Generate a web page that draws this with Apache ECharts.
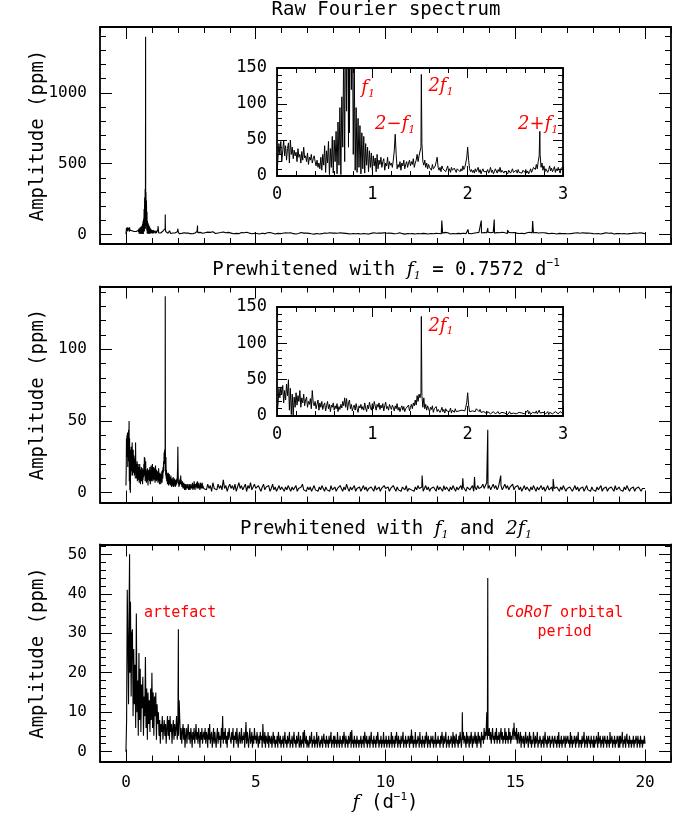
<!DOCTYPE html>
<html><head><meta charset="utf-8">
<script src="https://cdn.jsdelivr.net/npm/echarts@6/dist/echarts.min.js"></script>
<style>html,body{margin:0;padding:0;background:#fff}#c{width:687px;height:821px}</style>
</head><body><div id="c"></div>
<script>
// ---------------- DATA ----------------
// Raw Fourier spectrum: fine grid 0–3 d^-1 (step 0.01), grid 3.05–20 (step 0.05), plus narrow peaks
const rawLowStart = 0, rawLowStep = 0.01;
const rawLow = [
 2,25,45,30,48,20,35,50,28,42,
 22,38,46,18,50,30,40,24,36,28,
 33,20,38,26,30,18,34,22,40,25,
 28,20,32,16,26,22,30,18,24,28,
 20,14,22,12,18,10,26,8,30,15,
 42,5,35,18,48,2,38,12,55,4,
 50,20,62,3,75,15,95,2,110,40,
 180,20,260,90,320,40,60,300,120,240,
 30,160,8,95,5,80,12,70,3,60,
 10,55,4,45,15,40,6,35,12,32,
 8,28,14,25,6,30,10,22,16,26,
 12,20,24,8,18,14,26,10,20,15,
 18,12,22,35,58,30,10,16,12,20,
 8,18,14,22,10,16,20,12,18,22,
 14,20,16,24,12,18,22,30,20,28,
 28,40,45,20,15,22,12,18,10,16,
 12,14,8,16,10,12,14,20,26,12,
 8,12,6,14,10,8,12,6,10,14,
 7,10,5,12,8,6,11,9,5,10,
 8,12,6,10,7,14,9,12,18,25,
 40,22,10,6,9,5,8,4,10,6,
 8,12,5,9,3,7,10,6,4,8,
 6,9,4,7,12,5,8,3,6,10,
 7,4,9,6,12,5,8,10,4,7,
 9,5,3,8,6,4,7,10,5,3,
 6,8,4,9,5,3,7,4,8,6,
 5,9,4,7,3,6,10,5,8,12,
 14,9,16,10,20,28,30,12,18,8,
 14,6,10,12,5,9,14,7,11,6,
 9,13,5,10,7,12,8,4,11,9,
 12];
const rawHighStart = 3.05, rawHighStep = 0.05;
const rawHigh = [
 12,5,16,8,14,4,18,9,6,15,10,3,13,7,17,5,11,8,14,6,
 9,14,4,12,7,16,5,10,13,3,11,8,15,6,9,12,4,14,7,10,
 6,12,3,10,8,14,5,9,11,4,13,6,8,12,3,10,7,11,5,9,
 8,3,11,6,10,4,12,7,5,9,3,11,6,8,13,4,9,6,10,3,
 7,10,4,9,2,11,6,8,3,12,5,7,10,3,8,6,11,4,9,5,
 10,4,8,3,11,6,9,2,7,12,5,8,3,10,6,9,4,11,5,7,
 3,9,6,11,4,8,2,10,7,5,12,3,8,6,10,4,9,5,11,6,
 8,3,10,5,7,12,4,9,6,3,11,7,5,10,2,8,6,12,4,9,
 5,10,3,8,6,11,4,9,7,13,5,8,3,10,6,12,4,9,7,11,
 6,12,4,9,7,14,5,11,8,3,13,6,10,4,12,7,9,5,14,8,
 10,5,13,7,11,4,15,8,6,12,9,14,5,10,7,13,6,11,16,8,
 12,6,14,9,5,13,8,11,4,15,7,12,9,6,14,8,11,5,13,7,
 9,14,6,11,8,13,5,10,12,7,15,6,9,11,4,13,8,10,6,12,
 7,11,5,9,12,4,10,8,13,6,9,3,11,7,10,5,12,6,8,4,
 9,5,11,7,3,10,6,12,4,8,7,11,5,9,3,10,6,8,12,5,
 8,4,10,6,11,3,9,7,5,12,6,8,4,10,7,3,11,5,9,6,
 10,4,8,6,11,3,9,5,12,7,4,10,6,8,3,11,5,9,7,4];
const rawPeaks = [[0.757,1396],[1.514,141],[2.757,62],[12.17,98],[13.18,35],[13.69,98],
                  [13.94,45],[14.19,105],[14.70,30],[15.12,15],[15.67,95]];

// Prewhitened with f1
const pw1LowStart = 0, pw1LowStep = 0.01;
const pw1Low = [
 5,15,38,25,40,30,42,18,35,22,
 44,28,50,8,38,2,30,0,26,12,
 32,15,28,20,35,12,25,18,30,14,
 22,26,12,20,16,24,10,35,18,14,
 20,10,16,22,8,18,12,20,9,15,
 18,7,14,20,10,16,6,15,12,18,
 8,14,10,17,6,13,9,16,11,20,
 14,25,12,24,8,18,22,10,16,7,
 12,15,8,17,10,5,14,11,16,9,
 13,8,18,11,6,15,10,19,12,8,
 17,10,20,14,8,16,12,18,9,15,
 11,17,7,14,19,10,13,8,16,12,
 9,15,12,7,14,10,17,8,12,6,
 11,14,8,13,6,10,12,9,15,7,
 12,16,10,18,14,22,15,28,20,30,
 25,32,28,12,25,10,16,8,14,10,
 6,12,9,14,5,10,8,13,6,9,
 11,5,8,12,6,9,4,10,7,5,
 9,6,11,4,8,7,5,10,6,8,
 4,7,9,5,8,6,10,7,12,18,
 32,15,6,8,4,7,5,9,6,10,
 8,12,6,9,5,7,4,6,8,5,
 3,6,4,7,3,5,2,6,4,3,
 5,2,6,3,4,2,5,3,6,4,
 3,5,2,4,6,3,5,2,4,3,
 6,3,4,2,5,3,7,4,2,5,
 3,5,4,8,3,6,2,4,5,3,
 6,4,7,3,5,8,4,6,3,5,
 4,7,3,5,6,2,5,4,7,3,
 5,3,6,4,7,3,5,6,4,5,
 3];
const pw1HighStart = 3.05, pw1HighStep = 0.05;
const pw1High = [
 4,2,6,3,5,1,7,3,4,2,6,3,5,2,9,3,5,1,4,6,
 3,5,2,6,1,4,7,3,5,2,4,6,1,5,3,7,2,4,6,3,
 2,5,3,1,4,6,2,4,3,5,1,3,6,2,4,1,3,5,2,4,
 3,1,4,2,5,3,1,4,2,3,5,1,3,2,4,6,2,3,1,4,
 2,4,1,3,5,2,3,1,4,2,5,3,1,4,2,3,1,5,2,3,
 4,1,3,2,5,3,1,4,2,6,3,1,4,2,3,5,1,3,2,4,
 1,3,5,2,4,1,3,2,4,3,1,5,2,3,4,1,3,2,5,3,
 2,4,1,3,2,5,3,1,4,2,3,1,4,3,2,5,1,3,4,2,
 3,1,4,2,5,3,2,4,1,3,5,2,4,1,3,2,4,3,1,5,
 2,4,3,1,5,2,4,3,1,4,2,5,3,1,4,2,3,5,2,4,
 3,1,4,5,2,3,5,1,4,2,5,3,2,4,6,3,5,7,3,5,
 2,4,6,3,5,2,4,3,5,2,4,6,3,5,2,4,3,6,2,4,
 3,5,2,4,1,3,5,2,4,3,1,4,2,5,3,1,4,2,3,5,
 2,4,1,3,5,2,3,4,1,3,2,4,3,1,4,2,5,3,1,3,
 2,4,3,1,3,5,2,4,1,3,2,4,1,3,5,2,3,1,4,2,
 3,1,4,2,3,5,1,3,2,4,1,3,2,4,3,1,5,2,3,4,
 2,3,1,4,2,5,3,1,3,2,4,1,3,2,4,3,1,3,2,3];
const pw1Peaks = [[1.514,137],[11.41,12],[12.98,10],[13.43,11],[13.94,44],[14.44,12],[16.46,9.5]];

// Prewhitened with f1 and 2f1 (step 0.025 from 0 to 20, one row per d^-1)
const pw2Start = 0, pw2Step = 0.025;
const pw2 = [
 0,
 8,41,28,12,40,20,38,14,30,31, 9,26,12,22,6,35,10,18,4,25, 8,21,5,17,11,19,4,14,9,24, 6,16,3,15,7,13,5,16,8,20,
 6,15,4,14,9,15,3,12,7,10, 4,8,2,7,5,9,3,6,8,4, 7,2,6,9,4,8,3,9,5,7, 2,6,8,3,7,4,6,9,3,5,
 4,13,8,3,6,2,5,7,3,6, 1,4,6,2,5,7,3,5,2,6, 4,1,5,3,6,2,4,7,3,5, 2,6,4,1,5,3,6,2,4,5,
 3,6,2,5,4,1,6,3,7,2, 4,5,1,3,6,2,5,3,1,4, 6,2,5,3,4,1,6,3,9,2, 5,3,6,2,4,1,5,3,6,4,
 4,2,5,3,6,1,4,3,5,2, 6,3,1,4,5,2,3,6,2,4, 3,5,1,4,7.5,2,5,3,1,4, 6,2,3,5,1,4,2,6,3,4,
 2,5,3,1,4,2,5,3,4,1, 7,3,2,5,1,4,3,2,5,1, 4,3,2,4,1,3,5,2,4,1, 3,2,4,1,5,3,2,4,1,3,
 2,4,1,3,5,2,3,1,4,2, 3,5,1,3,2,4,1,3,5,2, 3,1,4,2,3,5,1,2,4,1, 3,2,5,1,5.5,3,2,4,1,3,
 3,1,4,2,3,5,1,3,2,4, 1,3,2,5,1,3,4,2,1,3, 2,4,1,3,4.5,2,3,1,4,2, 3,1,4,2,3,5,1,3,2,4,
 1,4,2,3,1,5,2,3,1,4, 2,3,1,4,2,5,3,1,4,2, 3,1,4,2,3,5,1,5.5,2,3, 1,4,2,3,1,4,2,3,1,3,
 2,4,1,3,2,4,1,5,3,2, 4,1,3,2,4,1,3,5,2,3, 1,4,2,3,1,4,2,5,3,1, 3,2,4,1,3,2,5,1,3,2,
 4,1,3,2,4,1,3,2,5,1, 4,2,3,1,4,2,5,3,1,4, 2,3,1,4,2,3,5,1,3,2, 4,1,3,2,4,3,1,4,2,5.6,
 2,4,1,3,2,5,1,3,2,4, 3,1,5,2,3,1,4,2,3,1, 4,2,5,3,1,4,2,3,1,4, 3,2,4,1,3,2,5,1,3,2,
 4,2,3,1,4,2,5,3,1,4, 2,3,5,1,3,2,4,1,3,2, 4,3,1,5,2,4,1,3,4.5,2, 3,1,4,2,5,3,1,4,3,5,
 2,4,3,1,5,2,4,3,1,4, 2,5,3,1,4,2,3,5,2,4, 1,3,5,2,4,3,1,5,3,4, 2,6,3,5,4,10,3,5,4,6,
 3,5,2,4,6,3,4,2,5,3, 6,2,4,3,5,2,4,6,3,5, 2,4,3,6,2,5,3,4,2,6, 3,5,2,4,3,5,6,3,4,5,
 3,6,2,4,5,2,3,5,1,4, 3,2,4,1,3,5,2,3,4,1, 3,5,2,4,1,3,2,5,3,1, 4,2,3,5,1,3,2,4,3,1,
 3,2,4,1,3,5,2,3,1,4, 2,3,4,1,3,2,4,3,1,3, 4,2,3,1,4,2,5,1,3,2, 4,1,3,2,4,3,1,4,2,3,
 4,2,3,1,5,2,4,1,3,2, 4,3,1,4,2,3,5,1,3,2, 3,1,4,2,3,5,1,3,2,4, 1,3,4,2,3,1,4,2,3,1,
 4,1,3,2,4,3,1,5,2,3, 4,1,3,2,4,1,3,4,2,3, 1,4,2,3,1,5,2,3,4,1, 3,2,4,1,3,2,4,3,1,4,
 1,4,2,3,5,1,3,2,4,1, 3,4.5,2,3,1,4,2,3,1,3, 2,4,1,3,2,4,3,1,4,2, 3,1,4,2,3,1,3,2,4,2];
const pw2Peaks = [[0.14,50],[2.02,31],[12.96,10],[13.94,44],[14.95,7.3]];

// Axis ranges and tick values
const xRange = [-1, 21];
const xMajor = [0,5,10,15,20];
const xMinor = [-1,0,1,2,3,4,5,6,7,8,9,10,11,12,13,14,15,16,17,18,19,20,21];
const rawYRange = [-68, 1465];
const rawYMajor = [0,500,1000];
const rawYMinor = [0,100,200,300,400,500,600,700,800,900,1000,1100,1200,1300,1400];
const pw1YRange = [-6.8, 143.8];
const pw1YMajor = [0,50,100];
const pw1YMinor = [0,10,20,30,40,50,60,70,80,90,100,110,120,130,140];
const pw2YRange = [-2.5, 52.5];
const pw2YMajor = [0,10,20,30,40,50];
const pw2YMinor = [0,2,4,6,8,10,12,14,16,18,20,22,24,26,28,30,32,34,36,38,40,42,44,46,48,50,52];
const inXRange = [0, 3];
const inXMajor = [0,1,2,3];
const inXMinor = [0,0.2,0.4,0.6,0.8,1,1.2,1.4,1.6,1.8,2,2.2,2.4,2.6,2.8,3];
const inYRange = [0, 150];
const inYMajor = [0,50,100,150];
const inYMinor = [0,10,20,30,40,50,60,70,80,90,100,110,120,130,140,150];

// ---------------- BUILD ----------------
const FONT = "'DejaVu Sans Mono', monospace";
const SERIF = "'DejaVu Serif', serif";
function grid(start, step, vals) { return vals.map((v, i) => [Math.round((start + i * step) * 1000) / 1000, v]); }
function merge() { const all = [].concat(...arguments); all.sort((a, b) => a[0] - b[0]); return all; }

const rawData = merge(grid(rawLowStart, rawLowStep, rawLow), grid(rawHighStart, rawHighStep, rawHigh), rawPeaks);
const pw1Data = merge(grid(pw1LowStart, pw1LowStep, pw1Low), grid(pw1HighStart, pw1HighStep, pw1High), pw1Peaks);
const pw2Data = merge(grid(pw2Start, pw2Step, pw2), pw2Peaks);

function makeAxes(dim, gridIndex, range, majors, minors, o) {
  const pos = dim === 'x' ? ['bottom', 'top'] : ['left', 'right'];
  const out = [];
  pos.forEach((p, k) => {
    const main = {
      type: 'value', gridIndex, min: range[0], max: range[1], position: p,
      splitLine: { show: false },
      axisLine: { show: true, onZero: false, lineStyle: { color: '#000', width: 1.8 } },
      axisTick: { show: true, inside: true, length: o.majorLen, customValues: majors, lineStyle: { color: '#000', width: 1 } },
      axisLabel: { show: k === 0 && !!o.labels, customValues: majors, margin: o.margin, color: '#000',
                   fontFamily: FONT, fontSize: o.labelSize, formatter: v => String(v) }
    };
    if (k === 0 && o.name) {
      main.name = o.name; main.nameLocation = 'middle'; main.nameGap = o.nameGap;
      main.nameMoveOverlap = false;
      if (dim === 'y') main.nameRotate = 90;
      main.nameTextStyle = { color: '#000', fontFamily: FONT, fontSize: 19, rich: o.nameRich || {} };
    }
    out.push(main);
    out.push({
      type: 'value', gridIndex, min: range[0], max: range[1], position: p,
      splitLine: { show: false },
      axisLine: { show: false, onZero: false },
      axisTick: { show: true, inside: true, length: o.minorLen, customValues: minors, lineStyle: { color: '#000', width: 1 } },
      axisLabel: { show: false }
    });
  });
  return out;
}

const yName = 'Amplitude (ppm)';
const mainOpt = { majorLen: 12, minorLen: 6, labelSize: 16, margin: 13 };
const inOpt = { majorLen: 10, minorLen: 5, labelSize: 17, margin: 10, labels: true };

const xAxes = [].concat(
  makeAxes('x', 0, xRange, xMajor, xMinor, Object.assign({}, mainOpt, { labels: false })),
  makeAxes('x', 1, xRange, xMajor, xMinor, Object.assign({}, mainOpt, { labels: false })),
  makeAxes('x', 2, xRange, xMajor, xMinor, Object.assign({}, mainOpt, { labels: true,
    name: '{i|f}{n| (d}{p|−1}{n|)}', nameGap: 30,
    nameRich: { i: { fontFamily: SERIF, fontStyle: 'italic', fontSize: 19, lineHeight: 24 },
                n: { fontFamily: FONT, fontSize: 19, lineHeight: 24 },
                p: { fontFamily: FONT, fontSize: 11, lineHeight: 11, verticalAlign: 'top' } } })),
  makeAxes('x', 3, inXRange, inXMajor, inXMinor, inOpt),
  makeAxes('x', 4, inXRange, inXMajor, inXMinor, inOpt)
);
const yAxes = [].concat(
  makeAxes('y', 0, rawYRange, rawYMajor, rawYMinor, Object.assign({}, mainOpt, { labels: true, name: yName, nameGap: 52 })),
  makeAxes('y', 1, pw1YRange, pw1YMajor, pw1YMinor, Object.assign({}, mainOpt, { labels: true, name: yName, nameGap: 52 })),
  makeAxes('y', 2, pw2YRange, pw2YMajor, pw2YMinor, Object.assign({}, mainOpt, { labels: true, name: yName, nameGap: 52 })),
  makeAxes('y', 3, inYRange, inYMajor, inYMinor, inOpt),
  makeAxes('y', 4, inYRange, inYMajor, inYMinor, inOpt)
);

const redRich = {
  i: { fontFamily: SERIF, fontStyle: 'italic', fontSize: 18, lineHeight: 22, color: '#f00' },
  s: { fontFamily: SERIF, fontStyle: 'italic', fontSize: 11, lineHeight: 11, verticalAlign: 'bottom', color: '#f00' },
  n: { fontFamily: FONT, fontSize: 15, lineHeight: 19, color: '#f00' },
  it: { fontFamily: FONT, fontStyle: 'italic', fontSize: 15, lineHeight: 19, color: '#f00' }
};
function ann(coord, text) {
  return { coord, value: '', label: { show: true, position: 'inside', formatter: text, rich: redRich } };
}
function markPts(list) {
  return { symbol: 'circle', symbolSize: 1, silent: true, animation: false,
           itemStyle: { color: 'rgba(0,0,0,0)' }, data: list };
}

const lineBase = { type: 'line', showSymbol: false, symbol: 'none', animation: false, silent: true,
                   clip: true, lineStyle: { color: '#000', width: 1.1 }, z: 3 };
function lineSeries(data, gi, extra) {
  return Object.assign({}, lineBase, { data, xAxisIndex: gi * 4, yAxisIndex: gi * 4 }, extra || {});
}

const titleRich = {
  n: { fontFamily: FONT, fontSize: 19, lineHeight: 24, color: '#000' },
  i: { fontFamily: SERIF, fontStyle: 'italic', fontSize: 19, lineHeight: 24, color: '#000' },
  s: { fontFamily: SERIF, fontStyle: 'italic', fontSize: 11, lineHeight: 11, verticalAlign: 'bottom', color: '#000' },
  p: { fontFamily: FONT, fontSize: 11, lineHeight: 11, verticalAlign: 'top', color: '#000' }
};
function title(text, top) {
  return { text, left: 386, top, textAlign: 'center', padding: 0,
           textStyle: { fontFamily: FONT, fontSize: 19, fontWeight: 'normal', color: '#000', rich: titleRich } };
}

const option = {
  backgroundColor: '#fff',
  animation: false,
  title: [
    title('Raw Fourier spectrum', 1),
    title('{n|Prewhitened with }{i|f}{s|1}{n| = 0.7572 d}{p|−1}', 258),
    title('{n|Prewhitened with }{i|f}{s|1}{n| and }{i|2f}{s|1}', 517)
  ],
  grid: [
    { left: 100, top: 27, width: 571, height: 217, outerBoundsMode: 'none' },
    { left: 100, top: 286.5, width: 571, height: 216, outerBoundsMode: 'none' },
    { left: 100, top: 544.5, width: 571, height: 217, outerBoundsMode: 'none' },
    { left: 277, top: 68, width: 286, height: 108, outerBoundsMode: 'none' },
    { left: 277, top: 307, width: 286, height: 109, outerBoundsMode: 'none' }
  ],
  xAxis: xAxes,
  yAxis: yAxes,
  series: [
    lineSeries(rawData, 0),
    lineSeries(pw1Data, 1),
    lineSeries(pw2Data, 2, { markPoint: markPts([
      ann([2.09, 35.2], '{n|artefact}'),
      ann([16.9, 32.6], '{it|CoRoT}{n| orbital}\n{n|period}')
    ]) }),
    lineSeries(rawData.filter(p => p[0] <= 3.05), 3, { lineStyle: { color: '#000', width: 1 }, markPoint: markPts([
      ann([0.955, 122], '{i|f}{s|1}'),
      ann([1.72, 124], '{i|2f}{s|1}'),
      ann([1.24, 72], '{i|2−f}{s|1}'),
      ann([2.74, 72], '{i|2+f}{s|1}')
    ]) }),
    lineSeries(pw1Data.filter(p => p[0] <= 3.05), 4, { lineStyle: { color: '#000', width: 1 }, markPoint: markPts([
      ann([1.72, 124], '{i|2f}{s|1}')
    ]) })
  ]
};

const chart = echarts.init(document.getElementById('c'), null, { renderer: 'canvas' });
chart.setOption(option);
</script></body></html>
